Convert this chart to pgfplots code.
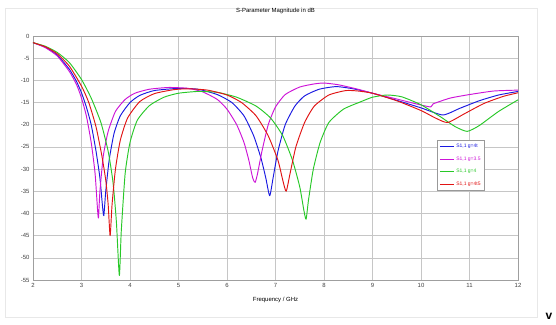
\documentclass[border=0pt]{standalone}
\usepackage{pgfplots}
\pgfplotsset{compat=1.18}
\usepackage{fontspec}
\setmainfont{Liberation Sans}
\definecolor{cB}{RGB}{25,25,225}
\definecolor{cM}{RGB}{205,20,215}
\definecolor{cG}{RGB}{40,200,40}
\definecolor{cR}{RGB}{225,20,20}
\begin{document}
\begin{tikzpicture}
\path[use as bounding box] (0,0) rectangle (556bp,325bp);
\draw[gray!18, line width=0.8pt] (5bp,8bp) rectangle (537bp,317bp);
\node[font=\fontsize{12}{12}\selectfont\bfseries] at (549bp,9bp) {v};
\begin{axis}[
  at={(33bp,45bp)}, anchor=south west, scale only axis,
  width=485bp, height=244bp,
  xmin=2, xmax=12, ymin=-55, ymax=0,
  xtick={2,3,...,12}, ytick={-55,-50,...,0},
  grid=major, grid style={gray!45, line width=0.5pt},
  axis line style={gray!75, line width=0.7pt},
  tick style={draw=none},
  ticklabel style={font=\fontsize{6}{7}\selectfont, text=black!75},
  /pgf/number format/assume math mode=true,
  title={S-Parameter Magnitude in dB},
  title style={font=\fontsize{6}{7}\selectfont, at={(0.5,1)}, anchor=center, yshift=19bp},
  xlabel={Frequency / GHz},
  xlabel style={font=\fontsize{6}{7}\selectfont, at={(0.5,0)}, anchor=center, yshift=-20bp},
  legend style={at={(0.833,0.574)}, anchor=north west, font=\fontsize{5}{6}\selectfont,
    draw=gray!80, line width=0.7pt, fill=white, inner sep=2pt, row sep=3.5bp},
  legend cell align=left,
  legend image code/.code={\draw[#1, line width=1pt] (0bp,0bp) -- (14bp,0bp);},
  every axis plot/.append style={line width=0.95pt, line join=round, smooth, tension=0.35},
]
\addplot[cB] coordinates {(2,-1.5)(2.25,-2.5)(2.5,-4.3)(2.75,-7.5)(2.9,-10.3)(3.0,-12.8)(3.1,-16)(3.2,-20)(3.3,-26)(3.38,-32)(3.43,-38)(3.46,-40.5)(3.5,-35)(3.57,-28)(3.67,-22)(3.8,-18)(4.0,-15)(4.2,-13.4)(4.5,-12.3)(5.0,-11.8)(5.4,-12)(5.8,-13.2)(6.1,-15)(6.35,-18)(6.55,-22.5)(6.7,-27.5)(6.8,-32)(6.88,-36)(6.95,-32)(7.05,-26)(7.2,-20)(7.4,-15.8)(7.6,-13.5)(7.9,-12)(8.25,-11.4)(8.6,-11.9)(9.0,-12.9)(9.5,-14.5)(10.0,-16.2)(10.45,-17.8)(10.8,-16.3)(11.2,-14.6)(11.6,-13.3)(12,-12.5)};
\addlegendentry{\textcolor{cB}{S1,1 g=4t}}
\addplot[cM] coordinates {(2,-1.5)(2.25,-2.6)(2.5,-4.5)(2.75,-8)(2.9,-11)(3.0,-14)(3.1,-18)(3.2,-24)(3.28,-31)(3.33,-39)(3.35,-41)(3.38,-35)(3.45,-27)(3.55,-21.5)(3.7,-17)(3.9,-14.3)(4.1,-12.9)(4.4,-12)(4.8,-11.6)(5.2,-11.8)(5.5,-12.6)(5.8,-14.3)(6.0,-16.5)(6.2,-20)(6.35,-24)(6.45,-28)(6.53,-32)(6.58,-33)(6.63,-31)(6.72,-26)(6.85,-20)(7.0,-16)(7.2,-13.2)(7.5,-11.5)(7.8,-10.8)(8.0,-10.6)(8.3,-11)(8.7,-12)(9.0,-12.9)(9.5,-14.2)(9.9,-15.3)(10.2,-16)(10.25,-15.3)(10.6,-14)(11,-13.2)(11.5,-12.4)(12,-12.2)};
\addlegendentry{\textcolor{cM}{S1,1 g=3.5}}
\addplot[cG] coordinates {(2,-1.5)(2.25,-2.3)(2.5,-3.7)(2.75,-6)(3.0,-9.8)(3.2,-14)(3.4,-19.5)(3.55,-26)(3.65,-33)(3.72,-42)(3.78,-54)(3.82,-44)(3.9,-31)(4.0,-24)(4.15,-19)(4.4,-15.7)(4.7,-13.8)(5.0,-12.9)(5.4,-12.5)(5.8,-12.7)(6.2,-13.8)(6.6,-15.8)(6.9,-18.5)(7.15,-22.5)(7.35,-28)(7.5,-34)(7.58,-39)(7.63,-41.3)(7.68,-37)(7.78,-30)(7.92,-24)(8.1,-19.5)(8.4,-16.5)(8.74,-14.9)(9.0,-13.8)(9.3,-13.3)(9.6,-13.7)(10.0,-15.5)(10.4,-18.2)(10.7,-20.4)(10.95,-21.5)(11.2,-20.2)(11.6,-17)(12,-14.4)};
\addlegendentry{\textcolor{cG}{S1,1 g=4}}
\addplot[cR] coordinates {(2,-1.5)(2.25,-2.4)(2.5,-4)(2.75,-6.8)(3.0,-11.3)(3.15,-15)(3.3,-20.5)(3.42,-27)(3.5,-32.5)(3.55,-38)(3.59,-45)(3.63,-38)(3.7,-30)(3.8,-23.5)(3.95,-18.5)(4.2,-14.8)(4.5,-13)(4.9,-12.1)(5.2,-11.9)(5.6,-12.2)(6.0,-13.3)(6.3,-15)(6.6,-18)(6.85,-22.5)(7.05,-28)(7.15,-32.5)(7.22,-35)(7.3,-31)(7.42,-25)(7.6,-19.5)(7.8,-15.8)(8.1,-13.3)(8.45,-12.3)(8.7,-12.4)(9.0,-12.9)(9.5,-14.6)(10.0,-16.8)(10.3,-18.5)(10.55,-19.5)(10.9,-17.5)(11.3,-15.2)(11.7,-13.6)(12,-12.8)};
\addlegendentry{\textcolor{cR}{S1,1 g=4t5}}
\end{axis}
\end{tikzpicture}
\end{document}
